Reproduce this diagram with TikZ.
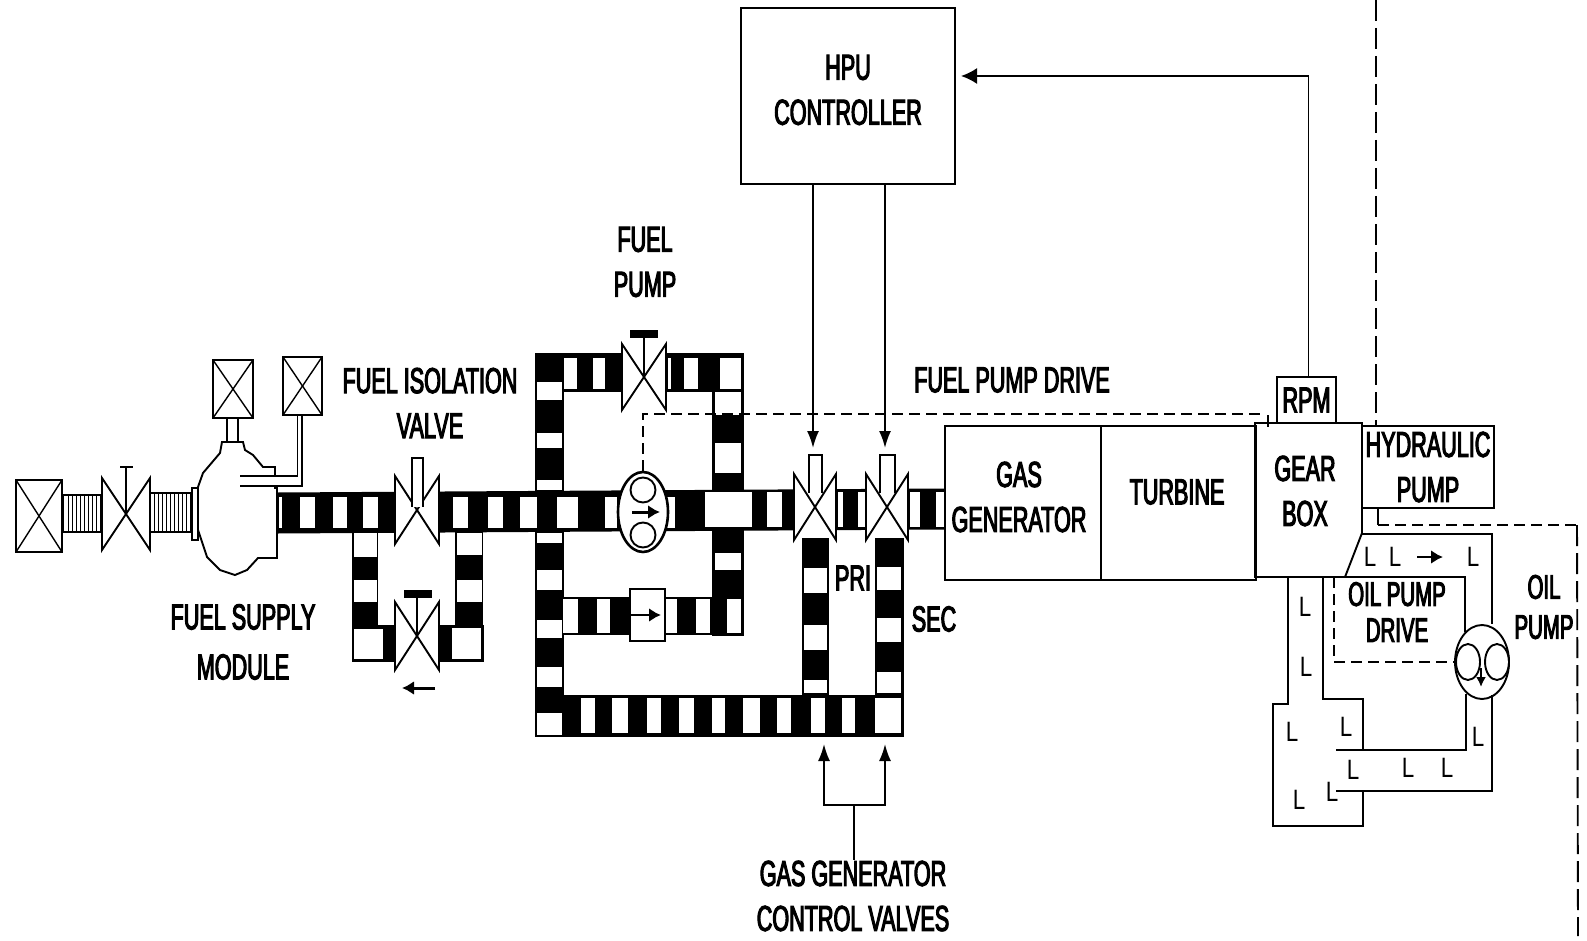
\documentclass[tikz,border=0pt]{standalone}
\usepackage{fontspec}
\setmainfont[FakeStretch=0.6,FakeBold=3]{Liberation Sans}
\newfontfamily\lubefont[FakeStretch=0.8]{Liberation Sans}
\usetikzlibrary{arrows.meta,positioning,shapes.geometric}
\tikzset{pics/valve/.style 2 args={code={
  \fill[white] (-#1,-26) rectangle (#1,26);
  \draw[fill=white] (-#1,-#2) -- (#1,#2) -- (#1,-#2) -- (-#1,#2) -- cycle;
}}}
\newcommand{\hcells}[3]{\foreach \xa/\xb in {#3} \fill[white] (\xa,#1) rectangle (\xb,#2);}
\newcommand{\vcells}[3]{\foreach \ya/\yb in {#3} \fill[white] (#1,\ya) rectangle (#2,\yb);}
\begin{document}
\begin{tikzpicture}[x=1pt, y=-1pt, line width=1.9pt,
  lab/.style={font=\fontsize{36}{45}\selectfont, align=center, inner sep=0pt},
  block/.style={draw, minimum width=#1, inner sep=0pt, minimum height=154pt},
  xbox/.style 2 args={draw, inner sep=0pt, minimum width=#1, minimum height=#2, path picture={
    \draw[line width=1.4pt] (path picture bounding box.north west) -- (path picture bounding box.south east);
    \draw[line width=1.4pt] (path picture bounding box.north east) -- (path picture bounding box.south west);}},
  sig/.style={-{Latex[length=17pt,width=12pt]}},
  flow/.style={-{Latex[length=12pt,width=14pt]}, line width=3pt},
  drive/.style={dash pattern=on 11pt off 6pt},
  longdash/.style={dash pattern=on 21pt off 7pt},
  lube/.style={font=\lubefont\fontsize{28}{28}\selectfont, inner sep=0pt},
  pipeh/.style={line width=#1},
  corr/.style={draw, fill=white}
]
\useasboundingbox (0,0) rectangle (1587,941);
% fuel lines
\coordinate (mainin) at (278,513);
\coordinate (mainout) at (944,509);
\draw[pipeh=41pt] (mainin) -- (mainout);
\draw[pipeh=39pt] (535,372.5) -- (744,372.5);
\draw[pipeh=32pt] (728,353) -- (728,636);
\draw[pipeh=29pt] (549.5,353) -- (549.5,737);
\draw[pipeh=38pt] (535,616) -- (744,616);
\draw[pipeh=42pt] (535,716) -- (904,716);
\draw[pipeh=27pt] (815,538) -- (815,695);
\draw[pipeh=29pt] (889.5,538) -- (889.5,737);
\draw[pipeh=26pt] (365,532) -- (365,662);
\draw[pipeh=28pt] (469,532) -- (469,662);
\draw[pipeh=37pt] (352,643.5) -- (484,643.5);
% white cells
\hcells{497}{528}{279/282,300/315,333/347,363/378,453/468,488/503,520/537,557/578,605/617,667/675}
\hcells{492}{527}{705/752,767/782,838/843,858/867,910/920,936/944}
\hcells{358}{389}{564/577,593/605,668/671,684/698,720/741}
\hcells{599}{633}{563/578,597/610,665/677,696/710,727/741}
\hcells{698}{733}{581/595,612/628,647/661,679/694,712/725,743/760,777/791,811/825,842/855,875/901}
\vcells{537}{562}{382/400,433/448,480/490,533/543,570/590,620/638,667/687,713/735}
\vcells{715}{741}{392/415,443/473,553/570}
\vcells{804}{827}{568/593,625/650,680/693}
\vcells{877}{901}{567/590,618/642,672/693}
\vcells{354}{377}{533/557,580/602}
\vcells{457}{482}{533/555,580/602}
\fill[white] (354,629) rectangle (383,659);
\fill[white] (452,628) rectangle (481,659);
% supply module
\node[xbox={46pt}{72pt}] (tank) at (39,516) {};
\node[xbox={40pt}{58pt}] (xtop) at (233,389) {};
\node[xbox={39pt}{58pt}] (xside) at (302.5,386) {};
\draw[corr] (63,495) rectangle (102,532);
\draw[corr] (150,493) rectangle (192,532);
\foreach \i in {68,72,...,100} \draw[line width=1pt] (\i,495) -- (\i,532);
\foreach \i in {154,158,...,190} \draw[line width=1pt] (\i,493) -- (\i,532);
\draw[fill=white] (192,488) rectangle (198,540);
\pic at (126,514) {valve={24}{36}};
\draw (126,514) -- (126,467) (120,467) -- (133,467);
\draw[fill=white] (198,487) -- (203,473) -- (220,453) -- (222,442) -- (243,442) -- (245,450) -- (253,455) -- (263,467) -- (275,467) -- (275,488)
  -- (277,488) -- (277,558) -- (258,558) -- (247,570) -- (235,575) -- (220,570) -- (207,557) -- (198,530) -- cycle;
\draw ([xshift=-6pt]xtop.south) -- ++(0,24) ([xshift=5pt]xtop.south) -- ++(0,24);
\fill[white] (277,476) rectangle (240,486);
\draw (240,476) -| ([xshift=-5pt]xside.south);
\draw (240,486) -| ([xshift=-0.5pt]xside.south);
\node[lab] (fsm) at (243,642) {FUEL SUPPLY\\[5pt]MODULE};
% valves
\pic at (417,510) {valve={22}{34}};
\draw[fill=white] (412,507) -- (412,458) -- (423,458) -- (423,507);
\node[lab] (fiv) at (430,403) {FUEL ISOLATION\\VALVE};
\pic at (417,636) {valve={22}{34}};
\draw (417,636) -- (417,597);
\draw[line width=8pt] (404,594) -- (432,594);
\coordinate (bypassl) at (435,688);
\coordinate (bypassr) at (402,688);
\draw[flow] (bypassl) -- (bypassr);
\pic at (644,377) {valve={22}{33}};
\draw (644,377) -- (644,333);
\draw[line width=8pt] (630,334) -- (658,334);
\node[lab] (fp) at (645,262) {FUEL\\PUMP};
\node[draw, fill=white, ellipse, inner sep=0pt, minimum width=50pt, minimum height=80pt, line width=2.6pt] (fuelpump) at (643,512) {};
\node[draw, circle, inner sep=0pt, minimum size=25pt] (fpa) at (643,490) {};
\node[draw, circle, inner sep=0pt, minimum size=25pt] (fpb) at (643,535) {};
\coordinate (fparr) at (660,512);
\draw[flow] (632,512) -- (fparr);
\node[draw, fill=white, inner sep=0pt, minimum width=35pt, minimum height=52pt] (chk) at (647.5,615) {};
\coordinate (chkarr) at (661,615);
\draw[flow, line width=2.4pt] (chk.west) -- (chkarr);
\pic (pri) at (815,507) {valve={21}{33}};
\draw[fill=white] (809,493) -- (809,455) -- (822,455) -- (822,493);
\pic (sec) at (887,507) {valve={21}{33}};
\draw[fill=white] (880,493) -- (880,455) -- (895,455) -- (895,493);
\node[lab] (prilab) at (853,578) {PRI};
\node[lab] (seclab) at (934,619) {SEC};
% engine
\node[block=156pt, anchor=north west] (gasgen) at (944,425) {};
\node[block=155pt, anchor=north west] (turbine) at (1100,425) {};
\node[lab] (gglab) at (1019,497) {GAS\\GENERATOR};
\node[lab] (turbine lab) at (1177,492) {TURBINE};
\draw (1255,423) -- (1362,423) -- (1362,533) -- (1345,577) -- (1255,577) -- cycle;
\node[lab] (gbox) at (1305,491) {GEAR\\BOX};
\node[draw, inner sep=0pt, minimum width=59pt, minimum height=46pt, lab] (rpm) at (1306.5,400) {RPM};
\node[draw, inner sep=0pt, minimum width=132pt, minimum height=82pt, lab] (hyd) at (1428,467) {HYDRAULIC\\PUMP};
% controller
\node[draw, minimum width=214pt, minimum height=176pt] (hpu) at (848,96) {};
\node[lab] (hpulab) at (848,90) {HPU\\CONTROLLER};
\coordinate (hpuin) at (961,76);
\coordinate (pritop) at (813,448);
\coordinate (sectop) at (885,448);
\draw[sig] (hpu.south -| pritop) -- (pritop);
\draw[sig] (hpu.south -| sectop) -- (sectop);
\draw[-{Latex[length=16pt,width=16pt]}] ([xshift=2pt]rpm.north) |- (hpuin);
% control valve bracket
\node[lab] (gcv) at (853,896) {GAS GENERATOR\\CONTROL VALVES};
\coordinate (pribot) at (824,744);
\coordinate (secbot) at (885,744);
\coordinate (brk) at (854,805);
\draw[sig] (gcv.north -| brk) -- (brk) -| (pribot);
\draw[sig] (brk) -| (secbot);
% drive lines
\coordinate (gbin) at (1265,414);
\node[lab] (fpd) at (1012,380) {FUEL PUMP DRIVE};
\draw[drive] (fuelpump.north) |- (gbin);
\draw (gbin) ++(3,1) -- ++(0,12);
\coordinate (hydtop) at (1376,0);
\coordinate (hydbot) at (1378,525);
\coordinate (sideend) at (1578,936);
\draw[longdash] (hydtop) -- (hyd.north -| hydtop);
\draw (hyd.south -| hydbot) -- (hydbot);
\draw[drive] (hydbot) -- (1577,525);
\draw[longdash] (1577,525) -- (sideend);
% oil loop
\node[draw, fill=white, ellipse, inner sep=0pt, minimum width=54pt, minimum height=74pt] (oilpump) at (1482,662) {};
\node[draw, ellipse, inner sep=0pt, minimum width=24pt, minimum height=36pt] (opa) at (1468,662) {};
\node[draw, ellipse, inner sep=0pt, minimum width=24pt, minimum height=36pt] (opb) at (1497,662) {};
\coordinate (oparr) at (1481,687);
\draw[-{Latex[length=10pt,width=10pt]}, line width=2.4pt] (1481,668) -- (oparr);
\draw (1362,534) -| (oilpump.north -| 1492,0);
\draw (1323,577) -| (1465,632);
\draw (1466,694) |- (1336,750);
\draw (1492,695) |- (1336,791);
\draw (1288,577) |- (1273,704) |- (1363,826) -- (1363,791);
\draw (1323,577) |- (1363,699) -- (1363,750);
\draw[drive] (1334,577) |- (oilpump.west);
\node[lab, font=\fontsize{34}{36}\selectfont] (opd) at (1397,612) {OIL PUMP\\DRIVE};
\node[lab, font=\fontsize{34}{40}\selectfont] (oplab) at (1544,607) {OIL\\PUMP};
\foreach \px/\py [count=\i] in {1370/557,1395/557,1473/557,1305/607,1306/667,1292/732,1346/727,1478/737,1353/770,1408/768,1447/768,1299/800,1332/792}
  \node[lube] (oil\i) at (\px,\py) {L};
\coordinate (oilarrl) at (1417,557);
\coordinate (oilarrr) at (1443,557);
\draw[flow, line width=2.4pt] (oilarrl) -- (oilarrr);
\end{tikzpicture}
\end{document}
